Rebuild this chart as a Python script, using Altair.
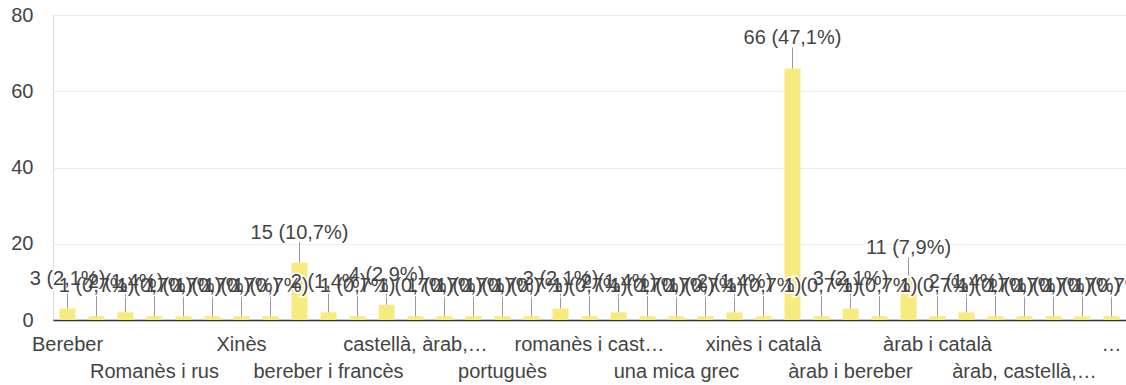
import altair as alt
import pandas as pd

# Responses per language answer (37 answers, sorted as in the form summary)
counts = [3, 1, 2, 1, 1, 1, 1, 1, 15, 2, 1, 4, 1, 1, 1, 1, 1, 3, 1, 2,
          1, 1, 1, 2, 1, 66, 1, 3, 1, 11, 1, 2, 1, 1, 1, 1, 1]

# Category names that fit on the axis (every third answer)
tick_labels = ["Bereber", "Romanès i rus", "Xinès", "bereber i francès",
               "castellà, àrab,…", "portuguès", "romanès i cast…",
               "una mica grec", "xinès i català", "àrab i bereber",
               "àrab i català", "àrab, castellà,…", "…"]
tick_step = 3

y_ticks = [0, 20, 40, 60, 80]

FONT = "Liberation Sans"
TEXT = "#444444"
BAR = "#f7eb80"

bars_df = pd.DataFrame({"pos": list(range(len(counts))), "count": counts})
ticks_df = pd.DataFrame({
    "pos": [i * tick_step for i in range(len(tick_labels))],
    "name": tick_labels,
    "row": [i % 2 for i in range(len(tick_labels))],
})

W, H = 1073, 305
x_enc = alt.X("pos:O",
              scale=alt.Scale(domain=list(range(len(counts))),
                              paddingInner=0.45, paddingOuter=0.225),
              axis=alt.Axis(labels=False, ticks=False, title=None,
                            domainColor="#333333", domainWidth=1.5, grid=False))
y_enc = alt.Y("count:Q",
              scale=alt.Scale(domain=[0, 80], nice=False),
              axis=alt.Axis(values=y_ticks, title=None, domain=False, ticks=False,
                            labelPadding=20, labelFont=FONT, labelFontSize=20,
                            labelColor=TEXT, gridColor="#ebebeb"))

base = alt.Chart(bars_df).transform_joinaggregate(
    total="sum(count)"
).transform_calculate(
    label="datum.count + ' (' + replace(format(datum.count / datum.total * 100, '.1f'), '.', ',') + '%)'"
)

bars = base.mark_bar(color=BAR).encode(x=x_enc, y=y_enc)

leaders = base.mark_rule(color="#999999", strokeWidth=1, y2Offset=-21).encode(
    x="pos:O", y="count:Q", y2="count:Q")

halo = base.mark_text(dy=-30, font=FONT, fontSize=20, color="white",
                      stroke="white", strokeWidth=3).encode(
    x="pos:O", y="count:Q", text="label:N")

values = base.mark_text(dy=-30, font=FONT, fontSize=20, color=TEXT).encode(
    x="pos:O", y="count:Q", text="label:N")

tick_base = alt.Chart(ticks_df)
row1 = tick_base.transform_filter("datum.row == 0").mark_text(
    font=FONT, fontSize=20, color=TEXT, baseline="middle").encode(
    x="pos:O", y=alt.value(H + 25), text="name:N")
row2 = tick_base.transform_filter("datum.row == 1").mark_text(
    font=FONT, fontSize=20, color=TEXT, baseline="middle").encode(
    x="pos:O", y=alt.value(H + 52), text="name:N")

chart = alt.layer(bars, leaders, halo, values, row1, row2).properties(
    width=W, height=H,
    autosize=alt.AutoSizeParams(type="none"),
    padding={"left": 53, "top": 15, "right": 0, "bottom": 65},
).configure_view(stroke="#ebebeb").configure(background="white")

chart.save("out.html", embed_options={"renderer": "svg", "actions": False})
